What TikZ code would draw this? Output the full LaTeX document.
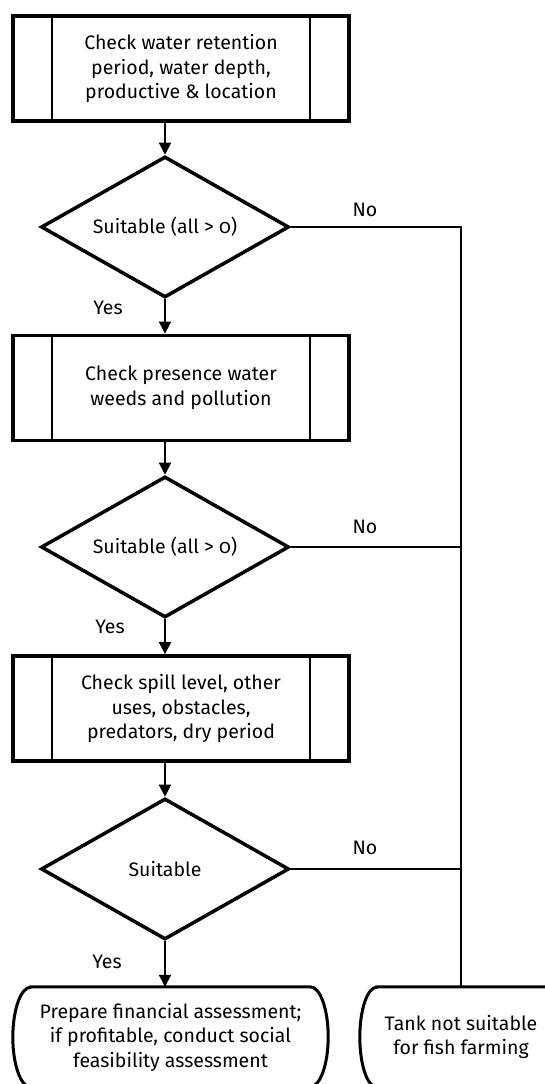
\documentclass[tikz,border=0pt]{standalone}
\usepackage{fontspec}
\setmainfont{Fira Sans}[Numbers=OldStyle]
\usetikzlibrary{arrows.meta,shapes.geometric,calc}
\begin{document}
\begin{tikzpicture}[x=1pt,y=1pt,
  font=\fontsize{19.5}{24.5}\selectfont,
  procbox/.style={draw, line width=3.8pt, minimum width=336pt, minimum height=105pt, inner sep=0pt, align=center},
  innerline/.style={line width=2.6pt},
  decision/.style={draw, diamond, line width=3.5pt, minimum width=248pt, minimum height=141pt, inner sep=0pt, aspect=1.76},
  termbox/.style={minimum height=100pt, inner sep=0pt, align=center},
  termline/.style={line width=3pt},
  conn/.style={line width=2pt},
  arr/.style={conn, -{Triangle[length=12pt,width=12pt]}},
  lbl/.style={inner sep=0pt}
]
\path[use as bounding box, clip] (0,0) rectangle (545,1084);

\node[procbox] (b1) at (181,1015.5) {Check water retention\\period, water depth,\\productive \& location};
\node[decision] (d1) at (165,857) {Suitable (all > 0)};
\node[procbox] (b2) at (181,696) {Check presence water\\weeds and pollution};
\node[decision] (d2) at (165,537) {Suitable (all > 0)};
\node[procbox] (b3) at (181,375.5) {Check spill level, other\\uses, obstacles,\\predators, dry period};
\node[decision] (d3) at (165,215) {Suitable};

\foreach \b in {b1,b2,b3} {
  \draw[innerline] ($(\b.north west)+(41,0)$) -- ($(\b.south west)+(41,0)$);
  \draw[innerline] ($(\b.north east)+(-41,0)$) -- ($(\b.south east)+(-41,0)$);
}

\node[termbox, minimum width=315pt] (t1) at (170.5,47) {Prepare financial assessment;\\if profitable, conduct social\\feasibility assessment};
\draw[termline] ($(t1.north west)+(18,0)$) -- ($(t1.north east)+(-18,0)$)
  arc[start angle=90, end angle=-90, x radius=18, y radius=50]
  -- ($(t1.south west)+(18,0)$)
  arc[start angle=270, end angle=90, x radius=18, y radius=50] -- cycle;

\node[termbox, minimum width=202pt] (t2) at (461,47) {Tank not suitable\\for fish farming};
\draw[termline] ($(t2.north west)+(17,0)$) -- ($(t2.north east)+(-17,0)$)
  arc[start angle=90, end angle=-90, x radius=17, y radius=50]
  -- ($(t2.south west)+(17,0)$)
  arc[start angle=270, end angle=90, x radius=17, y radius=50] -- cycle;

\draw[arr] (b1.south -| d1.north) -- (d1.north);
\draw[arr] (d1.south) -- (d1.south |- b2.north);
\draw[arr] (b2.south -| d2.north) -- (d2.north);
\draw[arr] (d2.south) -- (d2.south |- b3.north);
\draw[arr] (b3.south -| d3.north) -- (d3.north);
\draw[arr] (d3.south) -- (d3.south |- t1.north);
\draw[conn] (d1.east) -- (d1.east -| t2.north) -- (t2.north);
\draw[conn] (d2.east) -- (d2.east -| t2.north);
\draw[conn] (d3.east) -- (d3.east -| t2.north);

\node[lbl] (no1) at (365,874) {No};
\node[lbl] (no2) at (365,557) {No};
\node[lbl] (no3) at (365,236) {No};
\node[lbl] (yes1) at (108,776) {Yes};
\node[lbl] (yes2) at (110,457) {Yes};
\node[lbl] (yes3) at (107,122) {Yes};
\end{tikzpicture}
\end{document}
